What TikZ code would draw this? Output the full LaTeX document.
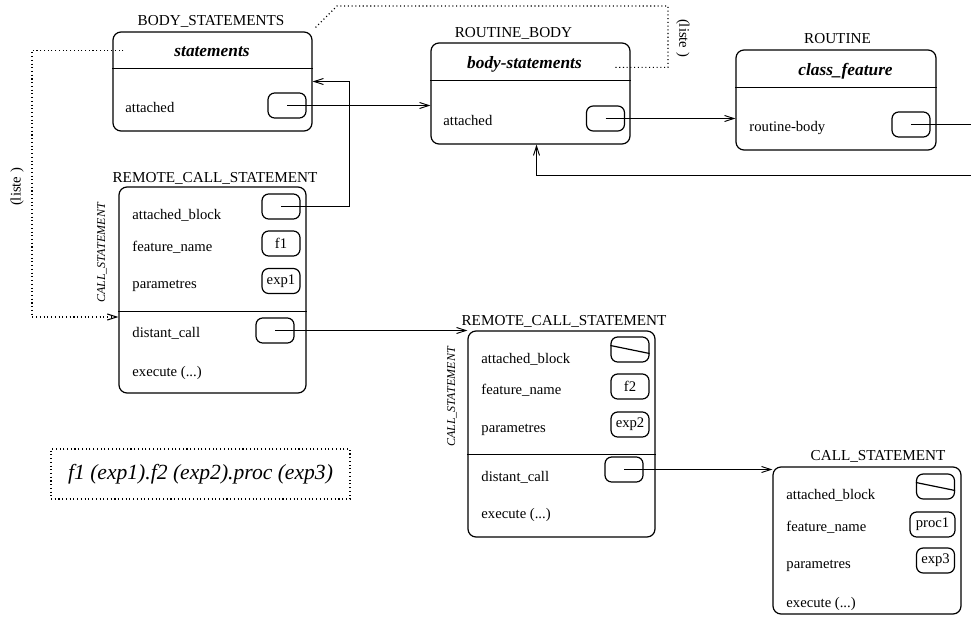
\documentclass[tikz,border=0pt]{standalone}
\usepackage{fontspec}
\setmainfont{Liberation Serif}
\usetikzlibrary{calc, arrows.meta, positioning, fit}

\begin{document}
\begin{tikzpicture}[x=0.75pt, y=-0.75pt, line width=0.7pt,
    >={Straight Barb[length=7pt,width=4.5pt]},
    classbox/.style={draw, line width=0.9pt, rounded corners=6pt, inner sep=0pt},
    slot/.style={draw, line width=0.9pt, rounded corners=5pt, minimum width=28.5pt,
      minimum height=18.75pt, inner sep=0.5pt, font=\fontsize{11}{13}\selectfont},
    field/.style={anchor=base west, inner sep=0pt, font=\fontsize{11}{13}\selectfont},
    classname/.style={anchor=base, inner sep=0pt, font=\fontsize{11.4}{13}\selectfont},
    header/.style={anchor=base, inner sep=0pt, font=\fontsize{13}{15}\bfseries\itshape\selectfont},
    parent/.style={rotate=90, inner sep=0pt, font=\fontsize{9}{11}\itshape\selectfont},
    liste/.style={inner sep=0pt, font=\fontsize{11}{13}\selectfont},
    link/.style={dotted, line width=0.8pt}]

    \useasboundingbox (0,0) rectangle (971,617);

    % --- Class boxes ---
    \node[classbox, fit={(113,32) (312,131)}] (bs) {};
    \node[classbox, fit={(431,43) (630,144)}] (rb) {};
    \node[classbox, fit={(736,50) (936,150)}] (rt) {};
    \node[classbox, fit={(119,187) (306,393)}] (rc1) {};
    \node[classbox, fit={(468,331) (655,537)}] (rc2) {};
    \node[classbox, fit={(773,467) (961,614)}] (cs) {};

    % --- Separators ---
    \draw[line width=0.9pt] ($(bs.north west)+(0,37)$) -- ($(bs.north east)+(0,37)$);
    \draw[line width=0.9pt] ($(rb.north west)+(0,38)$) -- ($(rb.north east)+(0,38)$);
    \draw[line width=0.9pt] ($(rt.north west)+(0,38)$) -- ($(rt.north east)+(0,38)$);
    \draw[line width=0.9pt] ($(rc1.north west)+(0,125)$) -- ($(rc1.north east)+(0,125)$);
    \draw[line width=0.9pt] ($(rc2.north west)+(0,124)$) -- ($(rc2.north east)+(0,124)$);

    % --- Class names ---
    \node[classname] (bsname) at (211,26) {BODY\_STATEMENTS};
    \node[classname] (rbname) at (513.5,38) {ROUTINE\_BODY};
    \node[classname] (rtname) at (837.5,44) {ROUTINE};
    \node[classname] (rc1name) at (215,182) {REMOTE\_CALL\_STATEMENT};
    \node[classname] (rc2name) at (564,325) {REMOTE\_CALL\_STATEMENT};
    \node[classname] (csname) at (878,460) {CALL\_STATEMENT};

    % --- Headers ---
    \node[header] (bshead) at (212,57) {statements};
    \node[header] (rbhead) at (524.5,69) {body-statements};
    \node[header] (rthead) at (845.5,76) {class\_feature};

    % --- Parent class ---
    \node[parent] (rc1par) at (102,253) {CALL\_STATEMENT};
    \node[parent] (rc2par) at (452,397) {CALL\_STATEMENT};

    % --- Fields ---
    \node[field] (bsatt) at (125,113) {attached};
    \node[field] (rbatt) at (443,125) {attached};
    \node[field] (rtbody) at (749,132) {routine-body};

    \node[field] (rc1blk) at (132,219) {attached\_block};
    \node[field] (rc1fn) at (132,251) {feature\_name};
    \node[field] (rc1par2) at (132,288) {parametres};
    \node[field] (rc1dc) at (132,337) {distant\_call};
    \node[field] (rc1ex) at (132,376) {execute (...)};

    \node[field] (rc2blk) at (481,363) {attached\_block};
    \node[field] (rc2fn) at (481,394) {feature\_name};
    \node[field] (rc2par2) at (481,432) {parametres};
    \node[field] (rc2dc) at (481,481) {distant\_call};
    \node[field] (rc2ex) at (481,518) {execute (...)};

    \node[field] (csblk) at (786,499) {attached\_block};
    \node[field] (csfn) at (786,531) {feature\_name};
    \node[field] (cspar) at (786,568) {parametres};
    \node[field] (csex) at (786,607) {execute (...)};

    % --- Slots ---
    \node[slot] (bsslot) at (287,105.5) {};
    \node[slot] (rbslot) at (605.5,118.5) {};
    \node[slot] (rtslot) at (911,124.5) {};

    \node[slot] (rc1blks) at (281,206.5) {};
    \node[slot] (rc1fns) at (281,243.5) {f1};
    \node[slot] (rc1pars) at (281,281) {exp1};
    \node[slot] (rc1dcs) at (275,330.5) {};

    \node[slot] (rc2blks) at (630,349.5) {};
    \node[slot] (rc2fns) at (630,386.5) {f2};
    \node[slot] (rc2pars) at (630,424.5) {exp2};
    \node[slot] (rc2dcs) at (624,469.5) {};

    \node[slot] (csblks) at (935.5,486.5) {};
    \node[slot, minimum width=33.75pt] (csfns) at (932.5,524.5) {proc1};
    \node[slot] (cspars) at (935.5,560.5) {exp3};

    % --- Void slots ---
    \draw[line width=0.9pt] ($(rc2blks.west)+(0,-4)$) -- ($(rc2blks.east)+(0,4)$);
    \draw[line width=0.9pt] ($(csblks.west)+(0,-4)$) -- ($(csblks.east)+(0,4)$);

    % --- References ---
    \draw[->] (bsslot.center) -- (bsslot.center -| rb.west);
    \draw[->] (rbslot.center) -- (rbslot.center -| rt.west);
    \draw[->] (rtslot.center) -- ++(80,0) -- ++(0,50.5) -| ([xshift=4.5pt]rb.south);
    \draw[->] (rc1blks.center) -| ($(bs.east)+(37,0)$) -- (bs.east);
    \draw[->] (rc1dcs.center) -- (rc1dcs.center -| rc2.west);
    \draw[->] (rc2dcs.center) -- (rc2dcs.center -| cs.west);

    % --- Lists (dotted) ---
    \coordinate (lsA) at ($(bs.north west)+(11,19)$);
    \coordinate (lsB) at (32,317);
    \draw[link, ->] (lsA) -| (lsB) -- (lsB -| rc1.west);
    \node[liste, rotate=90] (lsAlbl) at (17,187) {(liste )};

    \coordinate (lbA) at ($(bs.north east)+(3,-4)$);
    \coordinate (lbB) at (337,6);
    \coordinate (lbC) at (668,6);
    \coordinate (lbD) at ($(rb.north east)+(-17,25)$);
    \draw[link] (lbA) -- (lbB) -- (lbC) |- (lbD);
    \node[liste, rotate=-90] (lbBlbl) at (683,38) {(liste )};

    % --- Expression ---
    \node[draw, link, minimum width=224.25pt, minimum height=37.5pt, inner sep=0pt,
      font=\fontsize{16.2}{19}\itshape\selectfont] (expr) at (200.5,474)
      {f1 (exp1).f2 (exp2).proc (exp3)};
\end{tikzpicture}
\end{document}
